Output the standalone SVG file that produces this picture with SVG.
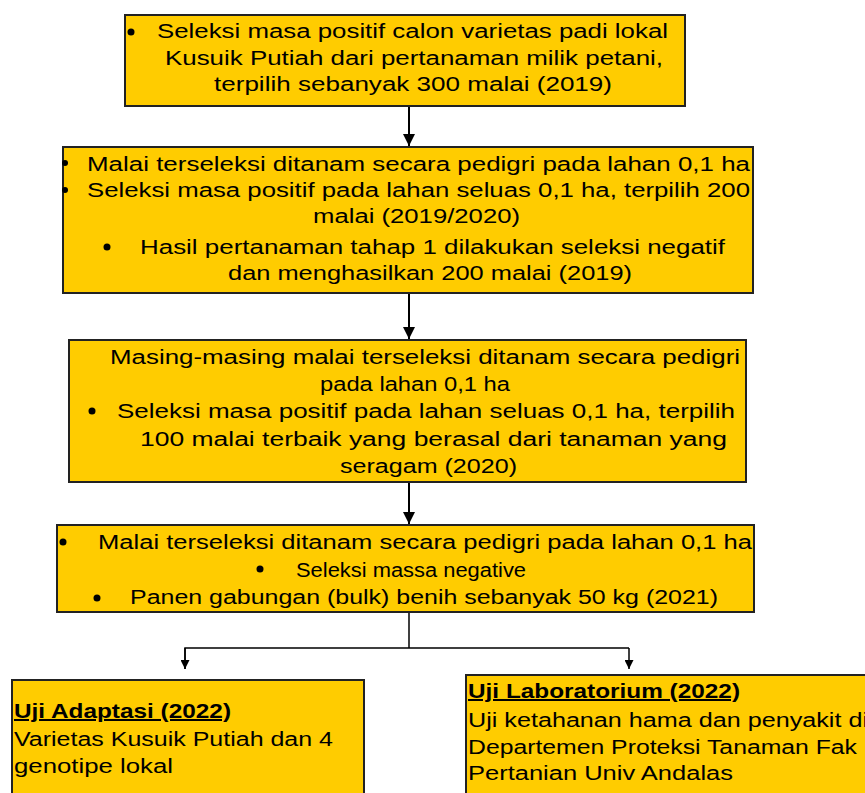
<svg xmlns="http://www.w3.org/2000/svg" width="865" height="793" viewBox="0 0 865 793">
<defs>
<style>
.box{fill:#FFCC00;stroke:#222;stroke-width:2}
.t{font-family:"Liberation Sans",Arial,sans-serif;font-size:20px;fill:#000}
.h{font-family:"Liberation Sans",Arial,sans-serif;font-size:20px;font-weight:bold;fill:#000;text-decoration:underline}
.b{fill:#000}
.c{stroke:#000;stroke-width:2;fill:none}
.c2{stroke:#000;stroke-width:1.5;fill:none}
</style>
<marker id="ah" markerWidth="12" markerHeight="12" refX="10" refY="5" orient="auto" markerUnits="userSpaceOnUse" viewBox="0 0 10 10">
<path d="M0,0 L10,5 L0,10 z" fill="#000"/>
</marker>
<marker id="ah2" markerWidth="9" markerHeight="9" refX="10" refY="5" orient="auto" markerUnits="userSpaceOnUse" viewBox="0 0 10 10">
<path d="M0,0 L10,5 L0,10 z" fill="#000"/>
</marker>
</defs>
<rect width="865" height="793" fill="#fff"/>

<g id="connectors">
<line class="c" x1="409" y1="107" x2="409" y2="146" marker-end="url(#ah)"/>
<line class="c" x1="409" y1="293" x2="409" y2="339" marker-end="url(#ah)"/>
<line class="c" x1="409" y1="482" x2="409" y2="524" marker-end="url(#ah)"/>
<line class="c2" x1="409" y1="612" x2="409" y2="648"/>
<polyline class="c2" points="185,669 185,648 629,648"/>
<line class="c2" x1="185" y1="648" x2="185" y2="669" marker-end="url(#ah2)"/>
<line class="c2" x1="629" y1="648" x2="629" y2="669" marker-end="url(#ah2)"/>
</g>

<g id="node1">
<rect class="box" x="125" y="15" width="560" height="91"/>
<circle class="b" cx="131" cy="32" r="3.5"/>
<text class="t" x="157" y="38" textLength="511" lengthAdjust="spacingAndGlyphs">Seleksi masa positif calon varietas padi lokal</text>
<text class="t" x="165" y="65" textLength="498" lengthAdjust="spacingAndGlyphs">Kusuik Putiah dari pertanaman milik petani,</text>
<text class="t" x="214" y="91" textLength="398" lengthAdjust="spacingAndGlyphs">terpilih sebanyak 300 malai (2019)</text>
</g>

<g id="node2">
<rect class="box" x="63" y="147" width="690" height="146"/>
<circle class="b" cx="65" cy="163" r="3"/>
<circle class="b" cx="65" cy="190" r="3"/>
<circle class="b" cx="107" cy="247" r="3.5"/>
<text class="t" x="87" y="171" textLength="663" lengthAdjust="spacingAndGlyphs">Malai terseleksi ditanam secara pedigri pada lahan 0,1 ha</text>
<text class="t" x="87" y="197" textLength="663" lengthAdjust="spacingAndGlyphs">Seleksi masa positif pada lahan seluas 0,1 ha, terpilih 200</text>
<text class="t" x="313" y="223" textLength="207" lengthAdjust="spacingAndGlyphs">malai (2019/2020)</text>
<text class="t" x="140" y="254" textLength="585" lengthAdjust="spacingAndGlyphs">Hasil pertanaman tahap 1 dilakukan seleksi negatif</text>
<text class="t" x="228" y="280" textLength="404" lengthAdjust="spacingAndGlyphs">dan menghasilkan 200 malai (2019)</text>
</g>

<g id="node3">
<rect class="box" x="69" y="340" width="677" height="142"/>
<circle class="b" cx="92" cy="411" r="3.5"/>
<text class="t" x="110" y="364" textLength="630" lengthAdjust="spacingAndGlyphs">Masing-masing malai terseleksi ditanam secara pedigri</text>
<text class="t" x="320" y="391" textLength="190" lengthAdjust="spacingAndGlyphs">pada lahan 0,1 ha</text>
<text class="t" x="117" y="418" textLength="618" lengthAdjust="spacingAndGlyphs">Seleksi masa positif pada lahan seluas 0,1 ha, terpilih</text>
<text class="t" x="140" y="446" textLength="587" lengthAdjust="spacingAndGlyphs">100 malai terbaik yang berasal dari tanaman yang</text>
<text class="t" x="340" y="473" textLength="177" lengthAdjust="spacingAndGlyphs">seragam (2020)</text>
</g>

<g id="node4">
<rect class="box" x="57" y="525" width="697" height="87"/>
<circle class="b" cx="63" cy="542" r="3.5"/>
<circle class="b" cx="260" cy="569" r="3.5"/>
<circle class="b" cx="97" cy="598" r="3.5"/>
<text class="t" x="98" y="549" textLength="654" lengthAdjust="spacingAndGlyphs">Malai terseleksi ditanam secara pedigri pada lahan 0,1 ha</text>
<text class="t" x="296" y="577" textLength="230" lengthAdjust="spacingAndGlyphs">Seleksi massa negative</text>
<text class="t" x="130" y="604" textLength="588" lengthAdjust="spacingAndGlyphs">Panen gabungan (bulk) benih sebanyak 50 kg (2021)</text>
</g>

<g id="node5">
<rect class="box" x="12" y="680" width="352" height="120"/>
<text class="h" x="14" y="718" textLength="217" lengthAdjust="spacingAndGlyphs">Uji Adaptasi  (2022)</text>
<text class="t" x="14" y="746" textLength="319" lengthAdjust="spacingAndGlyphs">Varietas Kusuik Putiah dan 4</text>
<text class="t" x="14" y="773" textLength="159" lengthAdjust="spacingAndGlyphs">genotipe lokal</text>
</g>

<g id="node6">
<rect class="box" x="466" y="675" width="410" height="125"/>
<text class="h" x="468" y="698" textLength="272" lengthAdjust="spacingAndGlyphs">Uji  Laboratorium (2022)</text>
<text class="t" x="468" y="727" textLength="400" lengthAdjust="spacingAndGlyphs">Uji ketahanan hama dan penyakit di</text>
<text class="t" x="468" y="754" textLength="389" lengthAdjust="spacingAndGlyphs">Departemen  Proteksi Tanaman Fak</text>
<text class="t" x="468" y="780" textLength="265" lengthAdjust="spacingAndGlyphs">Pertanian Univ Andalas</text>
</g>
</svg>
